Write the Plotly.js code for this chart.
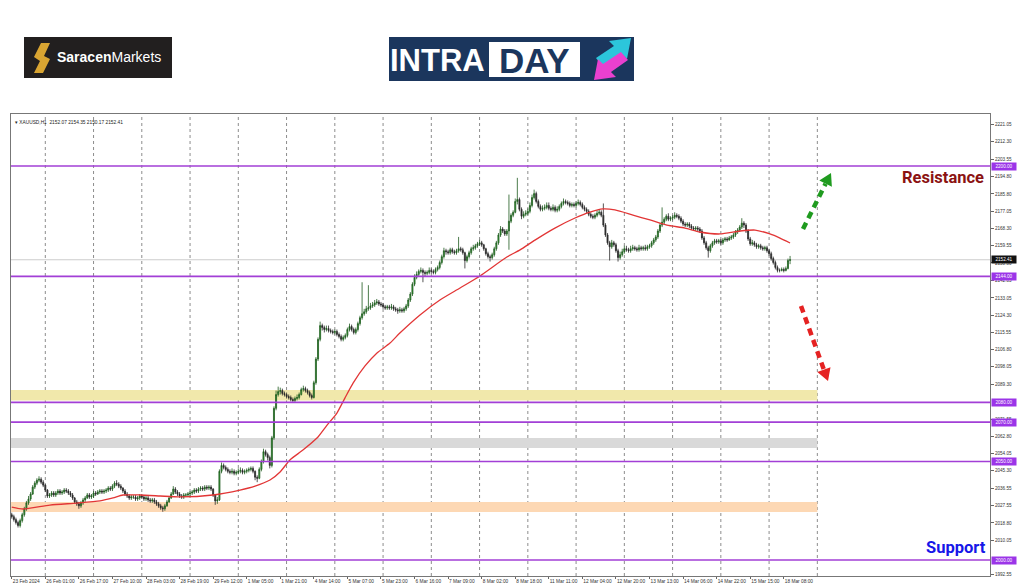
<!DOCTYPE html>
<html><head><meta charset="utf-8">
<script src="https://cdn.plot.ly/plotly-3.0.1.min.js"></script>
<style>html,body{margin:0;padding:0;background:#fff;}#chart{width:1024px;height:587px;}</style>
</head><body><div id="chart"></div>
<script>
// ---------------- DATA ----------------
const symbolHeader = "XAUUSD,H1";
const lastBarOHLC = [2152.07, 2154.35, 2150.17, 2152.41];
const firstOpen = 2023;
const closes = [
2022,2020.5,2019,2017.5,2020,2023,2026,2029,2031,2033.5,
2037,2039,2040.5,2041,2039.5,2038,2035.5,2032.5,2033,2034,
2033,2034,2035,2034,2034.5,2035.5,2035,2034,2033,2031.5,
2029.5,2028.5,2027.5,2029,2030.5,2031.5,2033,2032,2032.5,2034,
2033.5,2034.5,2035,2034.5,2035,2035.5,2036.5,2036,2037.5,2039,
2038.5,2037.5,2036.5,2035,2033.5,2032.5,2031.5,2032,2032,2031,
2031.5,2032.5,2032,2031,2031.5,2030.5,2030,2030.5,2029.5,2028.5,
2027.5,2026.5,2026,2027.5,2029.5,2031.5,2033.5,2036,2034.5,2033.5,
2032.5,2032,2033,2033,2033.5,2034,2034.5,2035.5,2035,2036,
2036.5,2036,2037,2036.5,2037,2036,2033,2030,2030.5,2045,
2048,2047,2046,2045,2044.5,2045,2044,2044.5,2045,2045.5,
2044.5,2045,2045.5,2046,2046.5,2045,2042,2041.5,2046,2050,
2055,2053.5,2052,2048,2062,2077,2084,2085.5,2086,2084.5,
2084,2083,2082.5,2081.5,2081,2082,2082.5,2084,2086.5,2087,
2086,2085,2083.5,2082.5,2090,2102,2112,2119,2118,2117,
2117.5,2116.5,2116,2115.5,2116,2114.5,2113.5,2112,2113,2114,
2117,2118.5,2117,2115.5,2117,2120,2123,2125,2126,2127.5,
2128,2129,2129.5,2130.5,2131,2130,2129.5,2128.5,2128,2128.5,
2128,2128.5,2127.5,2127,2126.5,2127,2126.5,2127.5,2129,2132,
2135,2140,2143.5,2145,2146.5,2147,2146,2145.5,2146,2147,
2146.5,2146,2147.5,2148.5,2151,2154,2157,2156.5,2156,2157.5,
2156.5,2156,2157,2158,2157.5,2156,2152,2154,2156,2158,
2158.5,2159.5,2160.5,2161,2160,2158,2155.5,2154,2153.5,2155,
2158,2161,2165,2168,2167,2165.5,2167,2172,2175,2176.5,
2182,2183,2178,2174.5,2175.5,2176,2177,2180,2184,2186,
2182,2179.5,2178,2178.5,2179,2180,2178.5,2178,2179,2177.5,
2178,2179.5,2181,2182,2181.5,2181,2180,2180.5,2180,2181,
2181.5,2180.5,2179,2178,2177,2175.5,2174.5,2174,2175,2176,
2176.5,2175,2170,2165,2161,2159,2161,2160,2157,2153.5,
2155,2156.5,2158,2157.5,2157,2158,2158.5,2158,2157.5,2158.5,
2158,2158.5,2158,2159,2159.5,2161,2162.5,2164,2167,2170,
2171.5,2173,2174.5,2173,2173.5,2174,2175,2174.5,2173.5,2172,
2170.5,2170,2170.5,2169.5,2168.5,2168,2168.5,2168,2167,2163.5,
2161,2158.5,2157,2159.5,2161,2162,2161.5,2162,2161,2162.5,
2163,2162.5,2163.5,2164,2165,2166.5,2167.5,2169,2171,2170,
2167,2163,2160.5,2161,2160,2159,2159.5,2158.5,2158,2158.5,
2157,2155.5,2153,2151,2148.5,2147,2147,2147.5,2147,2148,
2152.07,2152.41];
const highs = [
2024,2023,2021.5,2020,2021,2024,2027,2030,2032.5,2034.5,
2038,2040,2041.5,2042.5,2042,2040.5,2038.5,2036,2034,2035,
2035,2035,2036,2036,2035.5,2036.5,2036.5,2036,2035,2034,
2032,2030.5,2029.5,2030,2031.5,2032.5,2034,2034,2033.5,2035,
2035,2035.5,2036,2036,2036,2036.5,2037.5,2037.5,2038.5,2040,
2040.5,2039.5,2038.5,2037,2036,2034.5,2033.5,2033,2033,2033,
2032.5,2033.5,2033.5,2033,2032.5,2032.5,2031.5,2031.5,2031.5,2030.5,
2029.5,2028.5,2027.5,2028.5,2030.5,2032.5,2034.5,2037.5,2037,2035.5,
2034.5,2033.5,2034,2034,2034.5,2035,2035.5,2036.5,2036.5,2037,
2037.5,2037.5,2038,2038,2038,2038,2036.5,2033.5,2032,2046,
2049.5,2049,2048,2047,2046,2046.5,2046,2045.5,2046.5,2047,
2046.5,2046,2046.5,2047,2047.5,2047.5,2045.5,2043,2047,2051,
2056.5,2056,2054.5,2053,2063,2078,2086,2088,2087.5,2087,
2085.5,2085,2084,2083.5,2082.5,2083,2084,2085,2087.5,2088.5,
2088,2087,2086,2084.5,2091,2103,2113,2121,2120,2119,
2119,2119,2117.5,2117,2117,2117,2115.5,2114.5,2114,2115,
2118,2120,2119.5,2118,2118,2121,2124,2141,2127.5,2129,
2139.5,2130.5,2131,2132,2132.5,2132,2131,2130.5,2129.5,2129.5,
2129.5,2130,2129.5,2128.5,2128,2128.5,2128,2128.5,2130,2133,
2136,2141,2145,2146.5,2147.5,2148.5,2148,2147,2147,2148.5,
2148,2147.5,2148.5,2149.5,2152,2155,2158.5,2158,2157.5,2158.5,
2158.5,2157.5,2158,2164,2159,2158.5,2156.5,2155,2157,2159,
2160,2160.5,2161.5,2162.5,2162,2160.5,2158.5,2156.5,2155,2156,
2159,2162,2166,2169.5,2169,2168,2168,2185.5,2176,2177.5,
2183.5,2194,2184,2179,2177,2177.5,2178.5,2181.5,2185.5,2188,
2187,2183,2180.5,2180,2180.5,2181.5,2181.5,2179.5,2180.5,2180,
2179.5,2180.5,2182,2183.5,2183,2182.5,2182,2181.5,2181.5,2182,
2183,2182.5,2181.5,2180,2179,2178,2176.5,2175.5,2176,2177.5,
2178,2177.5,2181,2171,2166,2162,2162.5,2162,2161,2158,
2156.5,2158,2159.5,2159.5,2158.5,2159.5,2160,2159.5,2159,2160,
2159.5,2159.5,2160,2160,2160.5,2162,2163.5,2165,2168,2171,
2179,2174,2175.5,2176,2174.5,2175,2176.5,2176,2175.5,2174.5,
2173,2171.5,2171.5,2171.5,2170.5,2169.5,2169.5,2169.5,2169,2168,
2164.5,2162,2159.5,2160.5,2162,2163,2163,2163,2163,2163.5,
2164,2164,2164.5,2165,2166,2167.5,2168.5,2170,2173.5,2172,
2171,2168,2164,2162.5,2162,2161,2160.5,2160.5,2159.5,2159.5,
2159.5,2158,2156.5,2154,2152,2149.5,2148,2148.5,2148.5,2149,
2153,2154.35];
const lows = [
2021,2019.5,2018,2016.5,2016.5,2019,2022,2025,2028,2030,
2033,2036,2038,2039.5,2038.5,2037,2034.5,2031.5,2031.5,2032,
2032,2032,2033,2033,2033,2033.5,2034,2033,2032,2030.5,
2028.5,2027.5,2026,2026.5,2028,2029.5,2031,2031,2031,2031.5,
2032.5,2033,2033.5,2033.5,2033.5,2034,2034.5,2035,2035,2036.5,
2037.5,2036.5,2035.5,2034,2032.5,2031.5,2030.5,2030.5,2031,2030,
2030,2030.5,2031,2030,2030,2029.5,2029,2029,2028.5,2027.5,
2026.5,2025.5,2024.5,2025,2027,2029,2031,2033,2033.5,2032.5,
2031.5,2031,2031,2032,2032,2032.5,2033,2033.5,2034,2034,
2035,2035,2035,2035.5,2035.5,2035,2032,2028,2028.5,2030,
2044,2046,2045,2044,2043.5,2043.5,2043,2043,2043.5,2044,
2043.5,2043.5,2044,2044.5,2045,2044,2040.5,2039.5,2041,2045,
2049,2052.5,2050.5,2046.5,2047,2061,2076,2083,2084,2083.5,
2083,2082,2081.5,2080.5,2080,2080,2081,2081.5,2083.5,2085.5,
2085,2084,2082.5,2081.5,2082,2089,2101,2111,2116.5,2115.5,
2116,2115.5,2115,2114.5,2114.5,2113.5,2112.5,2111,2111,2112,
2113,2116,2116,2114.5,2114.5,2116,2119,2122,2124,2125,
2126.5,2127,2128,2128.5,2129.5,2129,2128.5,2127.5,2127,2127,
2127,2127,2126.5,2126,2125,2125.5,2125.5,2125.5,2126.5,2128,
2131,2134,2139,2142.5,2144,2145.5,2141,2144,2144.5,2145,
2145.5,2145,2145,2146.5,2147.5,2150,2153,2155,2155,2155,
2155.5,2155,2155,2156,2156.5,2155,2148,2151,2153,2155,
2157,2157.5,2158.5,2159.5,2159,2157,2154.5,2153,2151.5,2152.5,
2154,2157,2160,2164,2166,2164.5,2164.5,2157.5,2171,2174,
2176,2180.5,2177,2173,2173.5,2174.5,2175,2176,2179,2183,
2181,2178.5,2177,2177,2177.5,2178,2177.5,2177,2177,2176.5,
2176.5,2177,2178.5,2180,2180.5,2180,2179,2179,2179,2179,
2180,2179.5,2178,2177,2176,2174.5,2173.5,2173,2173,2174,
2175,2174,2169,2164,2160,2152,2158,2159,2156,2151.5,
2152.5,2154,2155.5,2156.5,2156,2156,2157,2157,2156.5,2156.5,
2157,2157,2157,2157,2158,2158.5,2160,2161.5,2163,2166,
2169,2170.5,2172,2172,2172,2172.5,2173,2173.5,2172.5,2171,
2169.5,2169,2169,2168.5,2167.5,2167,2167,2167,2166,2162.5,
2160,2157.5,2153.5,2156,2158.5,2160,2160.5,2160.5,2160,2160,
2161.5,2161.5,2162,2162.5,2163,2164,2165.5,2166.5,2168,2168.5,
2166,2162,2159.5,2159.5,2159,2158,2158,2157.5,2157,2157,
2156,2154.5,2152,2150,2147.5,2146,2146,2146.5,2146,2146.5,
2147.5,2150.17];
// moving average read at sample bars
const maBars   = [0,5.4,18.2,31.1,42.1,48.3,53,61.1,70.7,80.2,95.9,108.8,116,123.1,127.9,132.6,138.8,145.5,150.3,155,158.8,162.7,168.4,174.1,180.3,185,194.6,204.1,213.7,223.2,236,242.3,249.4,258.9,268.5,275.6,281.8,287.5,296.1,304.2,312.3,320.9,328,337.6,347.1,354.3,361.4,366.2,371];
const maValues = [2026.9,2025.9,2027.9,2028.9,2030,2031.5,2033,2033,2032.5,2032,2033,2035.5,2037.5,2040.6,2044.7,2050.8,2055.8,2061.9,2068.5,2074.6,2082.2,2089.8,2098.5,2105.1,2110.1,2115.2,2124.4,2132,2138.1,2144.2,2153.8,2157.4,2162.4,2168.5,2173.6,2176.6,2178.2,2177.7,2175.1,2172.6,2170,2168.5,2166.5,2165.5,2167,2167.5,2165.5,2163.4,2160.9];
const xTickBars = [0,16,32,48,64,80,96,112,128,144,160,176,192,208,224,240,256,272,288,304,320,336,352,368];
const xTickLabels = ["23 Feb 2024","26 Feb 01:00","26 Feb 17:00","27 Feb 10:00","28 Feb 03:00","28 Feb 19:00","29 Feb 12:00","1 Mar 05:00","1 Mar 21:00","4 Mar 14:00","5 Mar 07:00","5 Mar 23:00","6 Mar 16:00","7 Mar 09:00","8 Mar 02:00","8 Mar 18:00","11 Mar 11:00","12 Mar 04:00","12 Mar 20:00","13 Mar 13:00","14 Mar 06:00","14 Mar 22:00","15 Mar 15:00","18 Mar 08:00"];
const dayStartBars = [16,39,62,85,108,131,154,177,200,223,246,269,292,315,338,361,384];
const yTickValues = [2221.05,2212.30,2203.55,2194.80,2185.80,2177.05,2168.30,2159.55,2150.80,2142.05,2133.05,2124.30,2115.55,2106.80,2098.05,2089.30,2071.55,2062.80,2054.05,2045.30,2036.55,2027.55,2018.80,2010.05,1992.55];
const levelPrices = [2200, 2144, 2080, 2070, 2050, 2000];
const zoneLow  = [2081.0, 2056.8, 2024.4];
const zoneHigh = [2086.3, 2061.9, 2029.4];
const zoneColors = ['#f1e8ab', '#d9d9d9', '#fdd8b4'];
const lastPrice = 2152.41;

// ---------------- GEOMETRY ----------------
const W = 1024, H = 587;
const M = {l: 11, r: 34, t: 114, b: 11};
const PX = x => (x - M.l) / (W - M.l - M.r);
const PY = y => (H - M.b - y) / (H - M.t - M.b);
const pathPx = pts => 'M' + pts.map(p => PX(p[0]).toFixed(5) + ',' + PY(p[1]).toFixed(5)).join('L') + 'Z';

const bars = closes.map((_, i) => i);
const opens = closes.map((c, i) => i === 0 ? firstOpen : closes[i - 1]);
const FONT = 'Liberation Sans, Arial, sans-serif';
const PURPLE = '#a23fd6';

const traces = [
  {type: 'candlestick', x: bars, open: opens, high: highs, low: lows, close: closes,
   increasing: {line: {color: '#1e5a1e', width: 0.8}, fillcolor: '#36a336'},
   decreasing: {line: {color: '#2a2a2a', width: 0.8}, fillcolor: '#2a2a2a'},
   whiskerwidth: 0, hoverinfo: 'skip', showlegend: false},
  {type: 'scatter', mode: 'lines', x: maBars, y: maValues,
   line: {color: '#e23636', width: 1.3, shape: 'spline', smoothing: 0.6},
   hoverinfo: 'skip', showlegend: false}
];

const shapes = [];
zoneLow.forEach((lo, k) => shapes.push({type: 'rect', xref: 'x', yref: 'y', x0: -0.35, x1: dayStartBars[dayStartBars.length - 1],
  y0: lo, y1: zoneHigh[k], fillcolor: zoneColors[k], line: {width: 0}, layer: 'below'}));
dayStartBars.forEach(b => shapes.push({type: 'line', xref: 'x', yref: 'paper', x0: b, x1: b, y0: 0, y1: 1,
  line: {color: '#8c8c8c', width: 1, dash: 'dot'}, layer: 'below'}));
shapes.push({type: 'line', xref: 'paper', yref: 'y', x0: 0, x1: 1, y0: lastPrice, y1: lastPrice,
  line: {color: '#cccccc', width: 1}, layer: 'below'});
levelPrices.forEach(p => shapes.push({type: 'line', xref: 'paper', yref: 'y', x0: 0, x1: 1, y0: p, y1: p,
  line: {color: PURPLE, width: 1.6}, layer: 'above'}));
// dashed direction arrows
shapes.push({type: 'line', xref: 'paper', yref: 'paper', x0: PX(803), y0: PY(229), x1: PX(825.6), y1: PY(183.7),
  line: {color: '#1f9b1f', width: 4.5, dash: '7px,5px'}});
shapes.push({type: 'path', xref: 'paper', yref: 'paper', path: pathPx([[831,173],[831.9,186.8],[819.3,180.6]]),
  fillcolor: '#1f9b1f', line: {width: 0}});
shapes.push({type: 'line', xref: 'paper', yref: 'paper', x0: PX(801), y0: PY(306), x1: PX(823.9), y1: PY(369.7),
  line: {color: '#e52222', width: 4.5, dash: '7px,5px'}});
shapes.push({type: 'path', xref: 'paper', yref: 'paper', path: pathPx([[828,381],[830.5,367.3],[817.3,372.1]]),
  fillcolor: '#e52222', line: {width: 0}});
// logos
shapes.push({type: 'rect', xref: 'paper', yref: 'paper', x0: PX(24), x1: PX(172), y0: PY(78), y1: PY(37),
  fillcolor: '#221f1f', line: {width: 0}});
shapes.push({type: 'path', xref: 'paper', yref: 'paper',
  path: pathPx([[41,43],[50,43],[44,56],[50,59],[43,73],[34,73],[40,61],[34,57]]),
  fillcolor: '#d9a532', line: {width: 0}});
shapes.push({type: 'rect', xref: 'paper', yref: 'paper', x0: PX(389), x1: PX(634), y0: PY(81), y1: PY(37),
  fillcolor: '#1b365d', line: {width: 0}});
shapes.push({type: 'rect', xref: 'paper', yref: 'paper', x0: PX(489), x1: PX(580), y0: PY(77), y1: PY(42),
  fillcolor: '#ffffff', line: {width: 0}});
shapes.push({type: 'path', xref: 'paper', yref: 'paper',
  path: pathPx([[596,58],[614,46],[609,41],[631,38],[627,59],[622,54],[603,67]]),
  fillcolor: '#2cc6db', line: {width: 0}});
shapes.push({type: 'path', xref: 'paper', yref: 'paper',
  path: pathPx([[628,60],[611,72],[616,77],[594,80],[598,59],[603,64],[621,52]]),
  fillcolor: '#e940cf', line: {width: 0}});

const annotations = [];
annotations.push({xref: 'paper', yref: 'paper', x: PX(13), y: PY(123), xanchor: 'left', yanchor: 'middle', showarrow: false,
  text: '\u25BE ' + symbolHeader + '  ' + lastBarOHLC.map(v => v.toFixed(2)).join(' '),
  font: {family: FONT, size: 4.8, color: '#222'}});
levelPrices.forEach(p => annotations.push({xref: 'paper', yref: 'y', x: 1, y: p, xanchor: 'left', yanchor: 'middle',
  xshift: 1, showarrow: false, text: p.toFixed(2), bgcolor: '#9b35e8', borderpad: 0.5, width: 23, height: 6,
  font: {family: FONT, size: 4.6, color: '#ffffff'}}));
annotations.push({xref: 'paper', yref: 'y', x: 1, y: lastPrice, xanchor: 'left', yanchor: 'middle', xshift: 1,
  showarrow: false, text: lastPrice.toFixed(2), bgcolor: '#111111', borderpad: 0.5, width: 23, height: 6,
  font: {family: FONT, size: 4.6, color: '#ffffff'}});
annotations.push({xref: 'paper', yref: 'paper', x: PX(986), y: PY(177), xanchor: 'right', yanchor: 'middle', showarrow: false,
  text: '<b>Resistance</b>', font: {family: 'Roboto, Liberation Sans, Arial', size: 16.5, color: '#8b1212', weight: 900}});
annotations.push({xref: 'paper', yref: 'paper', x: PX(988), y: PY(547), xanchor: 'right', yanchor: 'middle', showarrow: false,
  text: '<b>Support</b>', font: {family: 'Roboto, Liberation Sans, Arial', size: 16.5, color: '#1616e8', weight: 900}});
annotations.push({xref: 'paper', yref: 'paper', x: PX(55), y: PY(57.5), xanchor: 'left', yanchor: 'middle', showarrow: false,
  text: '<b>Saracen</b>Markets', font: {family: FONT, size: 14, color: '#ffffff'}});
annotations.push({xref: 'paper', yref: 'paper', x: PX(487), y: PY(60), xanchor: 'right', yanchor: 'middle', showarrow: false,
  text: '<b>INTRA</b>', font: {family: FONT, size: 31, color: '#ffffff'}});
annotations.push({xref: 'paper', yref: 'paper', x: PX(534.5), y: PY(60), xanchor: 'center', yanchor: 'middle', showarrow: false,
  text: '<b>DAY</b>', font: {family: FONT, size: 35, color: '#1b365d'}});

const layout = {
  width: W, height: H, margin: M,
  paper_bgcolor: '#ffffff', plot_bgcolor: '#ffffff',
  showlegend: false, dragmode: false,
  xaxis: {type: 'linear', range: [-0.35, 466.3], rangeslider: {visible: false}, showgrid: false, zeroline: false,
    tickmode: 'array', tickvals: xTickBars, ticktext: xTickLabels, tickangle: 0, ticks: 'outside', ticklen: 2, tickcolor: '#666',
    ticklabelposition: 'outside right', tickfont: {family: FONT, size: 4.8, color: '#333'}, automargin: false,
    showline: true, linecolor: '#777', linewidth: 1, mirror: true, fixedrange: true},
  yaxis: {side: 'right', range: [1991.88, 2226.4], showgrid: false, zeroline: false, automargin: false,
    tickmode: 'array', tickvals: yTickValues, ticktext: yTickValues.map(v => v.toFixed(2)),
    ticks: 'outside', ticklen: 3, tickcolor: '#666', tickfont: {family: FONT, size: 4.6, color: '#333'},
    showline: true, linecolor: '#777', linewidth: 1, mirror: true, fixedrange: true},
  shapes: shapes, annotations: annotations
};
Plotly.newPlot('chart', traces, layout, {displayModeBar: false, staticPlot: true});
</script></body></html>
